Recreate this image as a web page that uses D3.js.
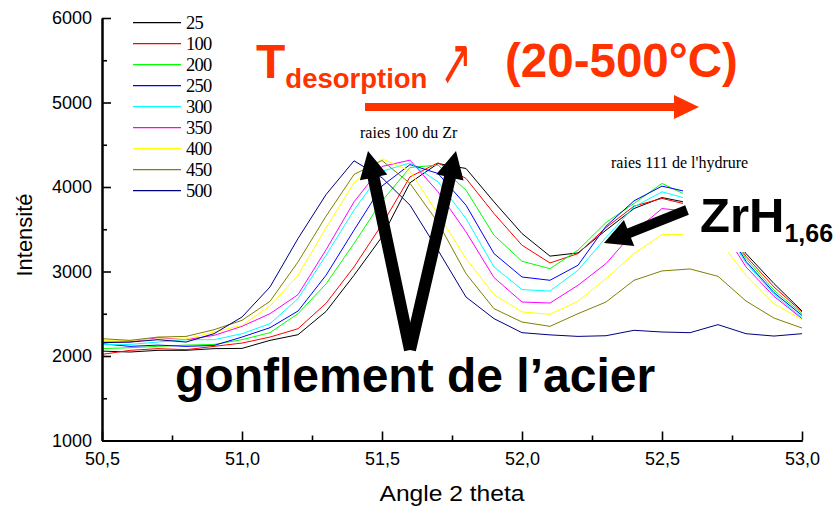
<!DOCTYPE html>
<html>
<head>
<meta charset="utf-8">
<script src="https://cdn.jsdelivr.net/npm/d3@7/dist/d3.min.js"></script>
<style>
  html, body { margin: 0; padding: 0; background: #fff; }
  svg { display: block; }
</style>
</head>
<body>
<svg id="chart" width="839" height="506"></svg>
<script>
// ---------- DATA ----------
const angles = [50.5, 50.6, 50.7, 50.8, 50.9, 51.0, 51.1, 51.2, 51.3, 51.4, 51.5, 51.6, 51.7,
                51.8, 51.9, 52.0, 52.1, 52.2, 52.3, 52.4, 52.5, 52.6, 52.7, 52.8, 52.9, 53.0];

const temperatures = ["25", "100", "200", "250", "300", "350", "400", "450", "500"];

const s25  = [2058, 2047, 2067, 2067, 2087, 2090, 2185, 2252, 2527, 2955, 3410, 4050, 4278, 4219, 3824, 3449, 3182, 3220, 3489, 3745, 3875, 3809, 3640, 3212, 2857, 2532];
const s100 = [2019, 2067, 2087, 2075, 2114, 2153, 2224, 2323, 2623, 3054, 3557, 4120, 4286, 4101, 3686, 3311, 3101, 3212, 3520, 3773, 3865, 3785, 3620, 3180, 2817, 2521];
const s200 = [2087, 2098, 2114, 2129, 2137, 2193, 2276, 2501, 2853, 3331, 3835, 4231, 4259, 3963, 3429, 3121, 3034, 3252, 3580, 3805, 4042, 3884, 3660, 3153, 2778, 2501];
const s250 = [2145, 2114, 2129, 2114, 2125, 2224, 2335, 2532, 2955, 3489, 4012, 4265, 4160, 3785, 3212, 2935, 2896, 3074, 3536, 3836, 4010, 3935, 3660, 3120, 2750, 2480];
const s300 = [2137, 2137, 2165, 2193, 2193, 2264, 2383, 2679, 3192, 3726, 4186, 4285, 4061, 3627, 3054, 2786, 2768, 3015, 3402, 3765, 3943, 3852, 3620, 3100, 2730, 2454];
const s350 = [2165, 2165, 2217, 2193, 2244, 2351, 2501, 2726, 3256, 3824, 4243, 4318, 3943, 3469, 2928, 2639, 2627, 2837, 3094, 3469, 3745, 3710, 3580, 3054, 2706, 2442];
const s400 = [2185, 2185, 2200, 2200, 2283, 2363, 2592, 2955, 3514, 4049, 4334, 4190, 3680, 3153, 2726, 2521, 2493, 2647, 2916, 3212, 3437, 3437, 3382, 2955, 2619, 2430];
const s450 = [2205, 2185, 2224, 2232, 2311, 2422, 2647, 3113, 3654, 4148, 4314, 4042, 3580, 2975, 2560, 2402, 2351, 2501, 2639, 2896, 3007, 3030, 2943, 2651, 2449, 2331];
const s500 = [2158, 2165, 2193, 2165, 2264, 2461, 2817, 3390, 3910, 4310, 4110, 3785, 3252, 2698, 2442, 2276, 2250, 2232, 2240, 2304, 2284, 2276, 2371, 2264, 2236, 2264];

const seriesValues = [s25, s100, s200, s250, s300, s350, s400, s450, s500];
const seriesColors = ["#000000", "#ff0000", "#00ff00", "#0000ff", "#00ffff", "#ff00ff", "#ffff00", "#808000", "#000080"];

const xMajorTicks = [50.5, 51.0, 51.5, 52.0, 52.5, 53.0];
const xTickLabels = ["50,5", "51,0", "51,5", "52,0", "52,5", "53,0"];
const xMinorTicks = [50.75, 51.25, 51.75, 52.25, 52.75];
const yMajorTicks = [1000, 2000, 3000, 4000, 5000, 6000];
const yTickLabels = ["1000", "2000", "3000", "4000", "5000", "6000"];
const yMinorTicks = [1500, 2500, 3500, 4500, 5500];

// ---------- CHART ----------
const svg = d3.select("#chart");
const x = d3.scaleLinear().domain([50.5, 53.0]).range([102, 802]);
const y = d3.scaleLinear().domain([1000, 6000]).range([440.5, 18]);

const sansFont = "'Liberation Sans', Arial, sans-serif";
const serifFont = "'Liberation Serif', 'Times New Roman', serif";

// curves
const line = d3.line().x((d, i) => x(angles[i])).y(d => y(d));
const curves = svg.append("g").attr("class", "curves");
seriesValues.forEach((vals, si) => {
  curves.append("path")
    .attr("d", line(vals))
    .attr("fill", "none")
    .attr("stroke", seriesColors[si])
    .attr("stroke-width", 1);
});

// axes
const xAxis = d3.axisBottom(x).tickValues(xMajorTicks)
  .tickFormat((d, i) => xTickLabels[i]).tickSize(-9).tickSizeOuter(0).tickPadding(12);
const xAxisMinor = d3.axisBottom(x).tickValues(xMinorTicks).tickFormat("").tickSize(-5).tickSizeOuter(0);
const yAxis = d3.axisLeft(y).tickValues(yMajorTicks)
  .tickFormat((d, i) => yTickLabels[i]).tickSize(-9).tickSizeOuter(0).tickPadding(10);
const yAxisMinor = d3.axisLeft(y).tickValues(yMinorTicks).tickFormat("").tickSize(-5).tickSizeOuter(0);

function styleAxis(g) {
  g.select(".domain").attr("stroke", "#000").attr("stroke-width", 2);
  g.selectAll(".tick line").attr("stroke", "#000").attr("stroke-width", 1.6);
  g.selectAll(".tick text").attr("fill", "#000").style("font-family", sansFont).style("font-size", "18px");
}
const yA = y(1000);
svg.append("g").attr("transform", `translate(0,${yA})`).call(xAxisMinor).call(styleAxis);
svg.append("g").attr("transform", `translate(0,${yA})`).call(xAxis).call(styleAxis);
svg.append("g").attr("transform", `translate(${x(50.5)},0)`).call(yAxisMinor).call(styleAxis);
svg.append("g").attr("transform", `translate(${x(50.5)},0)`).call(yAxis).call(styleAxis);

// axis titles
svg.append("text").attr("x", 452).attr("y", 501).attr("text-anchor", "middle")
  .style("font-family", sansFont).style("font-size", "22px")
  .attr("textLength", 145).attr("lengthAdjust", "spacingAndGlyphs").text("Angle 2 theta");
svg.append("text").attr("transform", "translate(32,235) rotate(-90)").attr("text-anchor", "middle")
  .style("font-family", sansFont).style("font-size", "22px").text("Intensité");

// legend
const leg = svg.append("g");
temperatures.forEach((t, i) => {
  const ly = 22.7 + i * 21;
  leg.append("line").attr("x1", 133).attr("x2", 181).attr("y1", ly).attr("y2", ly)
    .attr("stroke", seriesColors[i]).attr("stroke-width", 1.2);
  leg.append("text").attr("x", 186).attr("y", ly).attr("dy", "0.36em")
    .style("font-family", serifFont).style("font-size", "18.5px").style("letter-spacing", "-0.7px")
    .text(t);
});

// white box hiding part of the curves (behind ZrH label)
svg.append("rect").attr("x", 683).attr("y", 176).attr("width", 160).attr("height", 76).attr("fill", "#fff");

// small annotations
svg.append("text").attr("x", 360).attr("y", 138)
  .style("font-family", serifFont).style("font-size", "16px").text("raies 100 du Zr");
svg.append("text").attr("x", 611).attr("y", 168)
  .style("font-family", serifFont).style("font-size", "16px").text("raies 111 de l'hydrure");

// arrows
function arrowPath(x1, y1, x2, y2, sw, hl, hw) {
  const dx = x2 - x1, dy = y2 - y1, L = Math.hypot(dx, dy);
  const ux = dx / L, uy = dy / L, px = -uy, py = ux;
  const bx = x2 - ux * hl, by = y2 - uy * hl;
  const pts = [
    [x1 + px * sw / 2, y1 + py * sw / 2],
    [bx + px * sw / 2, by + py * sw / 2],
    [bx + px * hw, by + py * hw],
    [x2, y2],
    [bx - px * hw, by - py * hw],
    [bx - px * sw / 2, by - py * sw / 2],
    [x1 - px * sw / 2, y1 - py * sw / 2]
  ];
  return "M" + pts.map(p => p.join(",")).join("L") + "Z";
}
// V arrows (gonflement)
svg.append("path").attr("d", arrowPath(410, 350, 368, 151, 12, 27, 14)).attr("fill", "#000");
svg.append("path").attr("d", arrowPath(410, 350, 456, 151, 12, 27, 14)).attr("fill", "#000");
// ZrH arrow
svg.append("path").attr("d", arrowPath(687, 210, 604, 243, 10, 27, 14)).attr("fill", "#000");
// orange arrow
const orange = "#ff3300";
svg.append("path").attr("d", arrowPath(365, 107, 699, 107, 8, 25, 12)).attr("fill", orange);

// big annotations
const tText = svg.append("text").attr("x", 256).attr("y", 78).attr("fill", orange)
  .style("font-family", sansFont).style("font-weight", "bold");
tText.append("tspan").style("font-size", "48px").text("T");
tText.append("tspan").attr("dy", 10).style("font-size", "27.5px").text("desorption");

svg.append("text").attr("transform", "translate(440,85) scale(0.58,1)").attr("fill", orange)
  .style("font-family", "'DejaVu Sans', sans-serif").style("font-size", "66px").text("↗");

svg.append("text").attr("x", 505).attr("y", 77).attr("fill", orange)
  .style("font-family", sansFont).style("font-weight", "bold").style("font-size", "47.5px")
  .text("(20-500°C)");

svg.append("text").attr("x", 175).attr("y", 392)
  .style("font-family", sansFont).style("font-weight", "bold").style("font-size", "48px")
  .text("gonflement de l’acier");

const zr = svg.append("text").attr("x", 700).attr("y", 232)
  .style("font-family", sansFont).style("font-weight", "bold");
zr.append("tspan").style("font-size", "49px").text("ZrH");
zr.append("tspan").attr("dy", 10).style("font-size", "25px").text("1,66");
</script>
</body>
</html>
